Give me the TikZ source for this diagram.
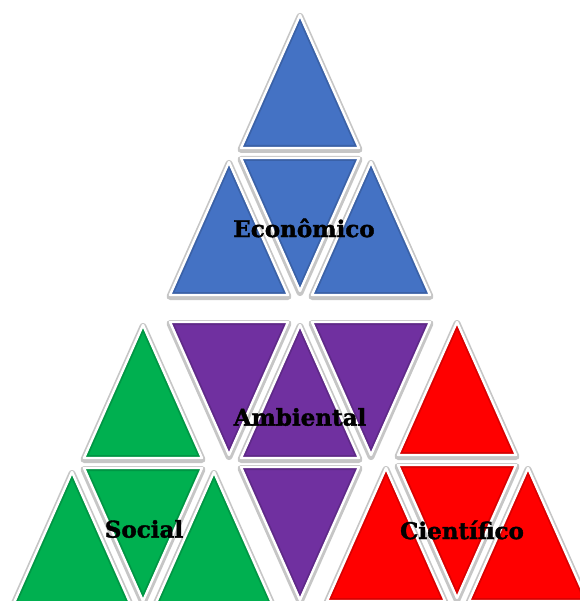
\documentclass[tikz,border=0pt]{standalone}
\usepackage{fontspec}
\usepackage{tikz}
\newfontfamily\labelfont[BoldFeatures={FakeBold=1.6}]{DejaVu Serif}

\definecolor{ecoblue}{HTML}{4472C4}
\definecolor{ambpurple}{HTML}{7030A0}
\definecolor{socgreen}{HTML}{00B050}
\definecolor{cienred}{HTML}{FF0000}

\tikzset{
  tshadow/.style={draw=gray!45,line width=7pt,line join=round,yshift=-1.5pt},
  tedge/.style={draw=white,line width=2.4pt,line join=round},
  tlabel/.style={font=\labelfont\bfseries\fontsize{23}{23}\selectfont,inner sep=0pt}
}

% one small triangle: colour and three corners
\newcommand{\tri}[4]{%
  \path[tshadow] #2 -- #3 -- #4 -- cycle;
  \begin{scope}
    \clip #2 -- #3 -- #4 -- cycle;
    \fill[#1] #2 -- #3 -- #4 -- cycle;
    \draw[#1!85!black,line width=6pt] #2 -- #3 -- #4 -- cycle;
  \end{scope}
  \path[tedge] #2 -- #3 -- #4 -- cycle;
}
\newcommand{\triup}[3]{\tri{#1}{(#2,#3)}{(#2-59,#3+133)}{(#2+59,#3+133)}}
\newcommand{\tridn}[3]{\tri{#1}{(#2-59,#3)}{(#2+59,#3)}{(#2,#3+133)}}

\begin{document}
\begin{tikzpicture}[x=1pt,y=-1pt]
\useasboundingbox (0,0) rectangle (579,601);

% economico
\triup{ecoblue}{300}{15}
\triup{ecoblue}{229}{162}
\triup{ecoblue}{371}{162}
\tridn{ecoblue}{300}{158}

% ambiental
\tridn{ambpurple}{229}{322}
\tridn{ambpurple}{371}{322}
\triup{ambpurple}{300}{325}
\tridn{ambpurple}{300}{467}

% social
\triup{socgreen}{143}{325}
\triup{socgreen}{72}{472}
\triup{socgreen}{214}{472}
\tridn{socgreen}{143}{468}

% cientifico
\triup{cienred}{457}{322}
\triup{cienred}{386}{468}
\triup{cienred}{528}{468}
\tridn{cienred}{457}{465}

\node[tlabel] (eco) at (304,228) {Econômico};
\node[tlabel] (amb) at (300,417) {Ambiental};
\node[tlabel] (soc) at (144,529) {Social};
\node[tlabel] (cie) at (462,530) {Científico};
\end{tikzpicture}
\end{document}
